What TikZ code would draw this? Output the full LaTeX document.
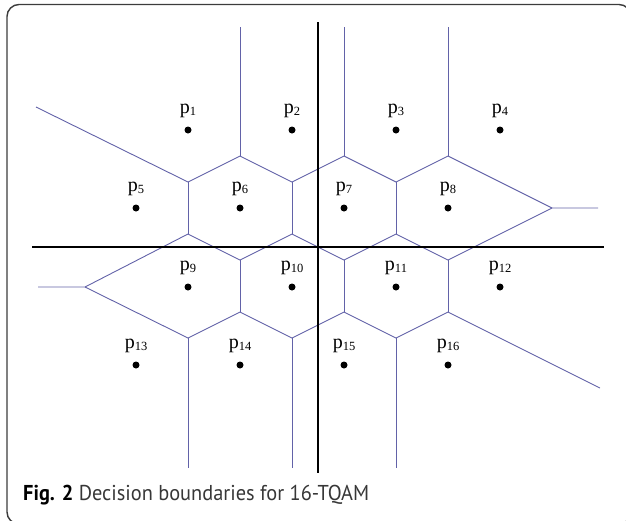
\documentclass[tikz,border=0pt]{standalone}
\usepackage{fontspec}
\setmainfont{Liberation Serif}
\newfontfamily\capfont{PT Sans}
\definecolor{bnd}{RGB}{98,98,168}
\definecolor{framegray}{RGB}{60,60,60}
\definecolor{captext}{RGB}{55,55,55}
\begin{document}
\begin{tikzpicture}[x=1pt,y=-1pt,
  boundary/.style={draw=bnd,line width=0.9pt,line join=miter},
  axis/.style={draw=black,line width=2.4pt},
  symbol/.style={circle,fill=black,inner sep=0pt,minimum size=7pt},
  plabel/.style={anchor=base,inner sep=0pt,font=\fontsize{20}{20}\selectfont}]
\useasboundingbox (0,0) rectangle (626,520);

% outer frame, partly outside the page
\begin{scope}
  \clip (0,0) rectangle (626,520);
  \draw[line width=1.4pt,draw=framegray,rounded corners=12pt] (7,4.5) rectangle (631,524);
\end{scope}

% decision boundaries
\draw[boundary] (240,27) -- (240,156);
\draw[boundary] (344,27) -- (344,156);
\draw[boundary] (448,27) -- (448,156);
\draw[boundary] (36,107) -- (188,182);
\draw[boundary] (188,182) -- (240,156) -- (292,182) -- (344,156) -- (396,182)
  -- (448,156) -- (552,208) -- (598,208);
\draw[boundary] (188,182) -- (188,234);
\draw[boundary] (292,182) -- (292,234);
\draw[boundary] (396,182) -- (396,234);
\draw[boundary] (188,234) -- (240,260) -- (292,234) -- (344,260) -- (396,234)
  -- (448,260) -- (552,208);
\draw[boundary] (38,287) -- (85,287) -- (188,234);
\draw[boundary] (240,260) -- (240,312);
\draw[boundary] (344,260) -- (344,312);
\draw[boundary] (448,260) -- (448,312);
\draw[boundary] (85,287) -- (188,338) -- (240,312) -- (292,338) -- (344,312)
  -- (396,338) -- (448,312) -- (600,388);
\draw[boundary] (188,338) -- (188,468);
\draw[boundary] (292,338) -- (292,468);
\draw[boundary] (396,338) -- (396,468);

% axes
\coordinate (xl) at (32,247);
\coordinate (xr) at (604,247);
\coordinate (yt) at (318,22);
\coordinate (yb) at (318,473);
\draw[axis] (xl) -- (xr);
\draw[axis] (yt) -- (yb);

% constellation points and labels
\foreach \x/\y/\i in {188/130/1,292/130/2,396/130/3,500/130/4,
                      136/208/5,240/208/6,344/208/7,448/208/8,
                      188/287/9,292/287/10,396/287/11,500/287/12,
                      136/365/13,240/365/14,344/365/15,448/365/16}{
  \node[symbol] (p\i) at (\x,\y) {};
  \node[plabel] (l\i) at (\x,{\y-17}) {p\raisebox{-2pt}{\fontsize{12.5}{12.5}\selectfont\i}};
}

% caption
\node[anchor=base west,inner sep=0pt,text=captext] (cap) at (23,500)
  {\resizebox{346pt}{\height}{\capfont\fontsize{21.5}{21.5}\selectfont\textcolor{black}{\textbf{Fig. 2}} Decision boundaries for 16-TQAM}};
\end{tikzpicture}
\end{document}
